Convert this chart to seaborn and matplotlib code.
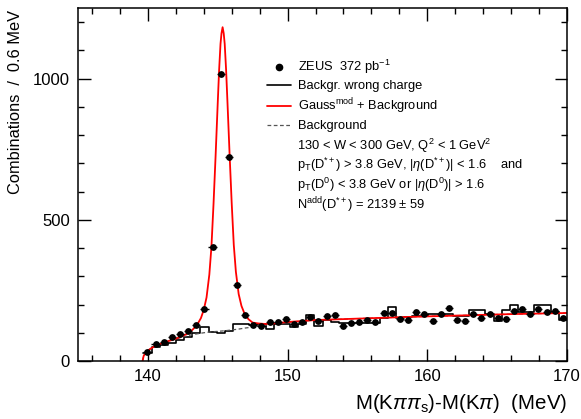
import matplotlib
matplotlib.use("Agg")
import matplotlib.pyplot as plt
from matplotlib.lines import Line2D
from matplotlib.ticker import MultipleLocator
import seaborn as sns
import numpy as np

# ---- data ----
bin_centers = [139.97, 140.55, 141.14, 141.72, 142.30, 142.89, 143.47, 144.05, 144.63, 145.22,
               145.80, 146.38, 146.97, 147.55, 148.13, 148.72, 149.30, 149.88, 150.46, 151.05,
               151.63, 152.21, 152.80, 153.38, 153.96, 154.55, 155.13, 155.71, 156.29, 156.88,
               157.46, 158.04, 158.63, 159.21, 159.79, 160.38, 160.96, 161.54, 162.12, 162.71,
               163.29, 163.87, 164.46, 165.04, 165.62, 166.21, 166.79, 167.37, 167.95, 168.54,
               169.12, 169.70]
data_counts = [33, 60, 68, 86, 94, 107, 127, 183, 403, 1018,
               721, 269, 163, 127, 124, 137, 137, 147, 130, 139,
               157, 141, 160, 163, 124, 135, 137, 145, 139, 171,
               170, 147, 145, 172, 165, 141, 168, 186, 145, 142,
               165, 153, 168, 153, 147, 177, 183, 165, 184, 172,
               177, 154]
wrong_charge = [30, 48, 57, 62, 74, 86, 98, 121, 104, 98,
                107, 131, 131, 127, 130, 112, 130, 130, 121, 131,
                163, 124, 146, 137, 133, 135, 135, 133, 133, 154,
                190, 154, 155, 160, 160, 168, 168, 168, 160, 160,
                180, 180, 168, 141, 180, 198, 174, 174, 198, 198,
                174, 145]
bin_width = 0.583

fit_x = [139.62, 139.7, 139.85, 140.0, 140.3, 140.6, 141.0, 141.5, 142.0, 142.5,
         143.0, 143.5, 143.8, 144.0, 144.2, 144.4, 144.55, 144.7, 144.85, 145.0,
         145.1, 145.2, 145.27, 145.35, 145.43, 145.5, 145.6, 145.7, 145.85, 146.0,
         146.15, 146.3, 146.5, 146.7, 146.9, 147.2, 147.5, 147.9, 148.4, 149.0,
         150.0, 152.0, 155.0, 158.0, 160.0, 163.0, 166.0, 170.0]
fit_y = [0, 18, 30, 37, 47, 55, 63, 71, 79, 89,
         101, 126, 152, 181, 225, 306, 404, 556, 728, 912,
         1030, 1123, 1160, 1182, 1160, 1123, 1031, 914, 732, 560,
         411, 316, 237, 195, 170, 148, 136, 133, 131, 133,
         138, 145, 150, 155, 158, 162, 166, 170]

bg_x = [139.62, 139.7, 139.85, 140.0, 140.3, 140.6, 141.0, 141.5, 142.0, 142.5,
        143.0, 143.5, 144.0, 144.5, 145.0, 145.5, 146.0, 146.5, 147.0, 147.5,
        148.0, 149.0, 150.0, 152.0, 155.0, 158.0, 160.0, 163.0, 166.0, 170.0]
bg_y = [0, 18, 30, 37, 47, 55, 63, 71, 78, 85,
        91, 96, 100, 103, 105, 107, 110, 113, 117, 120,
        124, 130, 137, 145, 150, 155, 158, 162, 166, 170]

legend_labels = ["ZEUS  372 pb$^{-1}$", "Backgr. wrong charge",
                 "Gauss$^{\\rm mod}$ + Background", "Background"]
info_lines = ["130 < W < 300 GeV, Q$^{2}$ < 1 GeV$^{2}$",
              "p$_{\\rm T}$(D$^{*+}$) > 3.8 GeV, |$\\eta$(D$^{*+}$)| < 1.6    and",
              "p$_{\\rm T}$(D$^{0}$) < 3.8 GeV or |$\\eta$(D$^{0}$)| > 1.6",
              "N$^{\\rm add}$(D$^{*+}$) = 2139 $\\pm$ 59"]

# ---- style ----
sns.set_style("ticks")
plt.rcParams["font.family"] = ["Liberation Sans", "DejaVu Sans"]
plt.rcParams["mathtext.fontset"] = "custom"
plt.rcParams["mathtext.rm"] = "Liberation Sans"
plt.rcParams["mathtext.it"] = "Liberation Sans:italic"
plt.rcParams["mathtext.bf"] = "Liberation Sans:bold"
plt.rcParams["axes.linewidth"] = 1.1
for key in ["text.color", "axes.labelcolor", "xtick.color", "ytick.color", "axes.edgecolor"]:
    plt.rcParams[key] = "black"

fig = plt.figure(figsize=(5.81, 4.19), dpi=100)
ax = fig.add_axes([78 / 581, 1 - 361 / 419, (567 - 78) / 581, (361 - 8) / 419])

# wrong-charge histogram
sns.histplot(x=bin_centers, weights=wrong_charge, bins=len(bin_centers),
             binrange=(bin_centers[0] - bin_width / 2, bin_centers[-1] + bin_width / 2),
             element="step", fill=False, color="black", linewidth=1.2, ax=ax)

# background and fit
sns.lineplot(x=bg_x, y=bg_y, color="#555555", linewidth=0.9, ax=ax,
             linestyle=(0, (3, 2)))
sns.lineplot(x=fit_x, y=fit_y, color="red", linewidth=1.3, ax=ax)

# data points
ax.errorbar(bin_centers, data_counts, xerr=bin_width / 2, fmt="none",
            ecolor="black", elinewidth=1.0, zorder=4)
sns.scatterplot(x=bin_centers, y=data_counts, color="black", s=24,
                edgecolor="black", linewidth=0, zorder=5, ax=ax)

ax.set_xlim(135, 170)
ax.set_ylim(0, 1250)
ax.xaxis.set_major_locator(MultipleLocator(10))
ax.xaxis.set_minor_locator(MultipleLocator(2))
ax.yaxis.set_major_locator(MultipleLocator(500))
ax.yaxis.set_minor_locator(MultipleLocator(100))
ax.tick_params(which="both", direction="in", top=True, right=True,
               labelsize=12, width=1.0, colors="black")
ax.tick_params(which="major", length=9, pad=6)
ax.tick_params(which="minor", length=4.5)

ax.set_ylabel("Combinations  /  0.6 MeV", fontsize=11.8, loc="top")
ax.yaxis.set_label_coords(-0.112, 0.995)
ax.set_xlabel("M(K$\\pi\\pi_{\\rm s}$)-M(K$\\pi$)  (MeV)", fontsize=14.8, loc="right")
ax.xaxis.set_label_coords(1.0, -0.088)

# legend
handles = [
    Line2D([], [], marker="o", color="black", linestyle="none", markersize=4.5),
    Line2D([], [], color="black", linewidth=1.2),
    Line2D([], [], color="red", linewidth=1.3),
    Line2D([], [], color="#555555", linewidth=0.9, linestyle=(0, (3, 2))),
]
leg = ax.legend(handles, legend_labels, loc="upper left",
                bbox_to_anchor=(267 / 581, 1 - 58 / 419), bbox_transform=fig.transFigure,
                frameon=False, fontsize=9.3, handlelength=1.85, handletextpad=0.55,
                labelspacing=0.32, borderpad=0, borderaxespad=0)
for t in leg.get_texts():
    t.set_color("black")

for txt, yy in zip(info_lines, [146, 165, 185, 205]):
    fig.text(297 / 581, 1 - yy / 419, txt, fontsize=9.3, ha="left", va="center",
             color="black")

fig.savefig("out.png", dpi=100)
